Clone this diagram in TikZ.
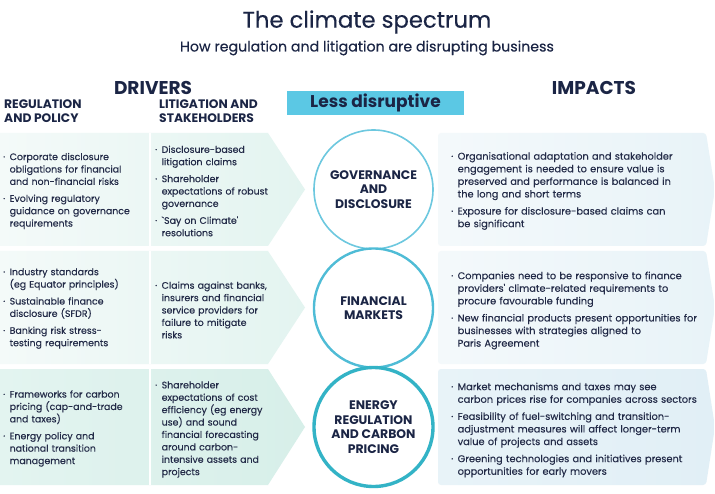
\documentclass[tikz,border=0pt]{standalone}
\usepackage{fontspec}
\setmainfont{Poppins}
\newfontfamily\bodyf{Poppins}[FakeBold=0.25]
\definecolor{navy}{HTML}{1B2545}
\definecolor{txt}{HTML}{232B48}
\definecolor{cyanbox}{HTML}{5BC8E4}
\definecolor{mintA}{HTML}{F4FAF9}
\definecolor{mintB}{HTML}{E3F4F0}
\definecolor{mintC}{HTML}{D7EFE9}
\definecolor{blueA}{HTML}{F4F9FB}
\definecolor{blueB}{HTML}{E8F3F8}
\definecolor{blueC}{HTML}{E1EFF6}
\definecolor{cone}{HTML}{6DC8DF}
\definecolor{ctwo}{HTML}{4FBCD6}
\definecolor{cthree}{HTML}{33B3C6}
\newcommand{\bl}[1]{\hangindent=6.5pt\hangafter=1\noindent\makebox[6.5pt][l]{·}#1\par}
\newcommand{\isep}{\vspace{4.5pt}}
\tikzset{
  blk/.style={anchor=west, text width=#1, align=left, inner sep=0pt, text=txt,
    font=\bodyf\fontsize{9.4}{12.4}\selectfont},
  rblk/.style={anchor=west, text width=#1, align=left, inner sep=0pt, text=txt,
    font=\bodyf\fontsize{9.8}{12.6}\selectfont},
  circbase/.style={circle, fill=white, minimum size=119pt, inner sep=0pt, align=center,
    text=navy, font=\bfseries\fontsize{12.4}{14.5}\selectfont},
  hdr/.style={text=navy, font=\bfseries\fontsize{18.5}{20}\selectfont, inner sep=0pt},
  subhdr/.style={anchor=west, align=left, text=navy, inner sep=0pt,
    font=\bfseries\fontsize{12.3}{14}\selectfont},
}
\begin{document}
\begin{tikzpicture}[x=1pt,y=-1pt]
\useasboundingbox (0,0) rectangle (715,494);
\fill[white] (0,0) rectangle (715,494);
% left bands
\shade[left color=mintA, right color=mintB] (0,133) -- (268,133) -- (305,189.5) -- (268,246) -- (0,246) -- cycle;
\shade[left color=mintA, right color=mintB] (0,251) -- (268,251) -- (305,307.5) -- (268,364) -- (0,364) -- cycle;
\shade[left color=mintB, right color=mintC] (0,369) -- (268,369) -- (305,427) -- (268,485) -- (0,485) -- cycle;
\foreach \a/\b in {133/246,251/364,369/485} \draw[white, line width=1.2pt] (150,\a) -- (150,\b);
% right bands
\shade[left color=blueA, right color=blueB, rounded corners=3pt] (438,133) -- (706,133) -- (715,189.5) -- (706,246) -- (438,246) -- cycle;
\shade[left color=blueA, right color=blueB, rounded corners=3pt] (438,251) -- (706,251) -- (715,307.5) -- (706,364) -- (438,364) -- cycle;
\shade[left color=blueB, right color=blueC, rounded corners=3pt] (438,369) -- (706,369) -- (715,427) -- (706,485) -- (438,485) -- cycle;
% titles
\node[text=navy, font=\bodyf\fontsize{22.7}{26}\selectfont, inner sep=0pt] (title) at (367,22) {The climate spectrum};
\node[text=navy, font=\bodyf\fontsize{14.2}{16}\selectfont, inner sep=0pt] (sub) at (367,48) {How regulation and litigation are disrupting business};
\node[hdr] (drv) at (153,88) {DRIVERS};
\node[hdr] (imp) at (594,88) {IMPACTS};
\node[fill=cyanbox, minimum width=177pt, minimum height=24pt, inner sep=0pt, text=navy,
  font=\bfseries\fontsize{17}{19}\selectfont] (less) at (375.5,103) {Less disruptive};
\node[subhdr] (reg) at (4,111) {REGULATION\\AND POLICY};
\node[subhdr] (lit) at (159,111) {LITIGATION AND\\STAKEHOLDERS};
% circles
\node[circbase, draw=cone, line width=1.6pt] (gov) at (373.5,189.5) {GOVERNANCE\\AND\\DISCLOSURE};
\node[circbase, draw=ctwo, line width=2.4pt] (fin) at (373.5,308) {FINANCIAL\\MARKETS};
\node[circbase, draw=cthree, line width=3.4pt] (ene) at (373.5,427) {ENERGY\\REGULATION\\AND CARBON\\PRICING};
% row 1
\node[blk=145pt] (r1a) at (3,191) {\bl{Corporate disclosure\newline obligations for financial\newline and non-financial risks}\isep
\bl{Evolving regulatory\newline guidance on governance\newline requirements}};
\node[blk=145pt] (r1b) at (155,191) {\bl{Disclosure-based\newline litigation claims}\isep
\bl{Shareholder\newline expectations of robust\newline governance}\isep
\bl{`Say on Climate'\newline resolutions}};
\node[rblk=262pt] (r1c) at (451,191) {\bl{Organisational adaptation and stakeholder\newline engagement is needed to ensure value is\newline preserved and performance is balanced in\newline the long and short terms}\isep
\bl{Exposure for disclosure-based claims can\newline be significant}};
% row 2
\node[blk=145pt] (r2a) at (3,308.5) {\bl{Industry standards\newline (eg Equator principles)}\isep
\bl{Sustainable finance\newline disclosure (SFDR)}\isep
\bl{Banking risk stress-\newline testing requirements}};
\node[blk=145pt] (r2b) at (155,310) {\bl{Claims against banks,\newline insurers and financial\newline service providers for\newline failure to mitigate\newline risks}};
\node[rblk=270pt] (r2c) at (451,310.5) {\bl{Companies need to be responsive to finance\newline providers' climate-related requirements to\newline procure favourable funding}\isep
\bl{New financial products present opportunities for\newline businesses with strategies aligned to\newline Paris Agreement}};
% row 3
\node[blk=145pt] (r3a) at (3,428.5) {\bl{Frameworks for carbon\newline pricing (cap-and-trade\newline and taxes)}\isep
\bl{Energy policy and\newline national transition\newline management}};
\node[blk=145pt] (r3b) at (155,429.5) {\bl{Shareholder\newline expectations of cost\newline efficiency (eg energy\newline use) and sound\newline financial forecasting\newline around carbon-\newline intensive assets and\newline projects}};
\node[rblk=270pt] (r3c) at (451,430) {\bl{Market mechanisms and taxes may see\newline carbon prices rise for companies across sectors}\isep
\bl{Feasibility of fuel-switching and transition-\newline adjustment measures will affect longer-term\newline value of projects and assets}\isep
\bl{Greening technologies and initiatives present\newline opportunities for early movers}};
\end{tikzpicture}
\end{document}
